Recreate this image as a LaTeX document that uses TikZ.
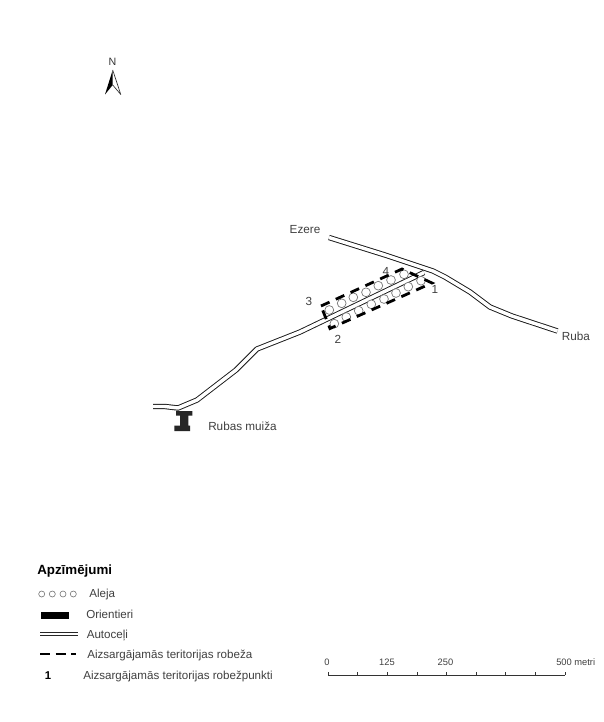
\documentclass[tikz,border=0pt]{standalone}
\usepackage{fontspec}
\setmainfont{Liberation Sans}
\begin{document}
\begin{tikzpicture}[x=0.75pt,y=-0.75pt,
  lbl/.style={inner sep=0pt,text=black!75,font=\fontsize{8.8}{10}\selectfont},
  lgd/.style={lbl,anchor=west,font=\fontsize{8.7}{10}\selectfont},
  sc/.style={lbl,font=\fontsize{7}{8.4}\selectfont},
  road/.style={line width=0.7pt,black!90,double=white,double distance=2.6pt,line join=round},
  border/.style={line width=2.1pt,black,dash pattern=on 7pt off 5.2pt},
  tree/.style={circle,draw=black!55,line width=0.5pt,fill=white,minimum size=6.6pt,inner sep=0pt},
  ltree/.style={circle,draw=black!55,line width=0.45pt,minimum size=4.5pt,inner sep=0pt},
  tick/.style={line width=0.6pt,black!80}]
\useasboundingbox (0,0) rectangle (604,722);
\fill[white] (0,0) rectangle (604,722);
% north arrow
\node[inner sep=0pt,font=\fontsize{8}{9}\selectfont,text=black!80] (north) at (112.5,62) {N};
\fill[black] (112.7,70) -- (105,94.5) -- (112.7,85) -- cycle;
\draw[line width=0.5pt,black!80,line join=round] (112.7,70) -- (120.8,94.5) -- (112.7,85);
% roads
\draw[road] (329,237.5) -- (385,255) -- (433,271) -- (445,277) -- (470,292) -- (490,307) -- (512,316) -- (557.5,331);
\draw[road] (153,406.5) -- (165,406.5) -- (178,408) -- (197,400) -- (236,370) -- (257,349) -- (300,332) -- (424,272.5);
% trees
\foreach \i/\p in {1/{329.3,310},2/{341.7,303.3},3/{353.3,297.3},4/{366,292.3},5/{378.3,285.7},6/{391,280},7/{404,274.3},
  8/{334.3,323.7},9/{346.3,317},10/{358.7,310.7},11/{371.3,304.3},12/{384,299},13/{396,293},14/{408.3,286.7},15/{421,280.7}}
  \node[tree] (t\i) at (\p) {};
% protected territory border
\draw[border] (321,306) -- (402,269) -- (432,283) -- (330,328.5) -- cycle;
% manor
\fill[black!85] (176,411) rectangle (192.3,415.7) (180,415.7) rectangle (188.3,425.7) (174.3,425.7) rectangle (190,431);
% labels
\node[lbl] (ezere) at (305,230) {Ezere};
\node[lbl] (ruba) at (576,336) {Ruba};
\node[lbl,anchor=west] (muiza) at (208,426) {Rubas muiža};
\node[lbl] (p1) at (435,289) {1};
\node[lbl] (p2) at (338,339) {2};
\node[lbl] (p3) at (309,301) {3};
\node[lbl] (p4) at (386,271) {4};
% legend
\node[inner sep=0pt,anchor=west,font=\bfseries\fontsize{10}{12}\selectfont] (title) at (37,571) {Apzīmējumi};
\foreach \i/\x in {1/41.7,2/52.3,3/63,4/73.3} \node[ltree] (l\i) at (\x,594) {};
\node[lgd] (laleja) at (89,594.5) {Aleja};
\fill[black] (40.7,612.3) rectangle (69.3,619);
\node[lgd] (lorient) at (86,614) {Orientieri};
\draw[line width=0.6pt,black!85] (40,632) -- (78,632) (40,635.7) -- (78,635.7);
\node[lgd] (lauto) at (86.5,635.5) {Autoceļi};
\draw[line width=2.1pt,black,dash pattern=on 7.5pt off 4.3pt] (40,654) -- (76,654);
\node[lgd] (lrob) at (87,655) {Aizsargājamās teritorijas robeža};
\node[inner sep=0pt,font=\bfseries\fontsize{8.5}{9}\selectfont] (lone) at (48,675.5) {1};
\node[lgd] (lpnt) at (83,676) {Aizsargājamās teritorijas robežpunkti};
% scale bar
\draw[tick] (328.3,675) -- (565,675);
\foreach \k in {0,...,8} \draw[tick] ({328.3+\k*29.59},675) -- ({328.3+\k*29.59},671.5);
\node[sc] (s0) at (327,662) {0};
\node[sc] (s125) at (387,662) {125};
\node[sc] (s250) at (445.5,662) {250};
\node[sc,anchor=west] (s500) at (556,662) {500 metri};
\end{tikzpicture}
\end{document}
